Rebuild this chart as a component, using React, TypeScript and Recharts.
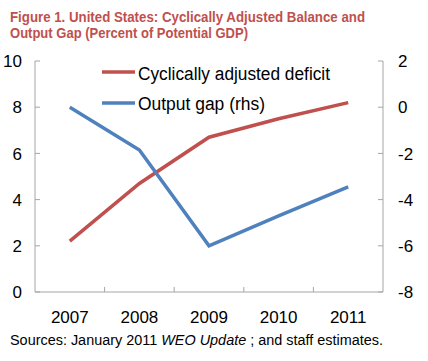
import React from "react";
import { LineChart, Line, XAxis, YAxis } from "recharts";

const years = ["2007", "2008", "2009", "2010", "2011"];
const cyclicallyAdjustedDeficit = [2.2, 4.7, 6.7, 7.5, 8.2];
const outputGap = [0.0, -1.85, -6.0, -4.7, -3.45];
const leftTicks = [0, 2, 4, 6, 8, 10];
const rightTicks = [-8, -6, -4, -2, 0, 2];

const data = years.map((y, i) => ({
  year: y,
  deficit: cyclicallyAdjustedDeficit[i],
  gap: outputGap[i],
}));

const RED = "#C0504D";
const BLUE = "#4F81BD";
const AXIS = "#A6A6A6";
const FONT = "'Liberation Sans', Arial, sans-serif";

const LeftTick = (props: any) => {
  const { x, y, payload } = props;
  return (
    <g>
      <line x1={x + 13} x2={x + 18} y1={y} y2={y} stroke={AXIS} strokeWidth={1} />
      <text x={x} y={y} dy="0.36em" textAnchor="end" fontSize={17} fontFamily={FONT} fill="#000">
        {payload.value}
      </text>
    </g>
  );
};

const RightTick = (props: any) => {
  const { x, y, payload } = props;
  return (
    <g>
      <line x1={x - 15} x2={x - 20} y1={y} y2={y} stroke={AXIS} strokeWidth={1} />
      <text x={x} y={y} dy="0.36em" textAnchor="start" fontSize={17} fontFamily={FONT} fill="#000">
        {payload.value}
      </text>
    </g>
  );
};

const BottomTick = (props: any) => {
  const { x, payload, index } = props;
  const half = 348 / 5 / 2;
  return (
    <g>
      {index < years.length - 1 && (
        <line x1={x + half} x2={x + half} y1={292} y2={287} stroke={AXIS} strokeWidth={1} />
      )}
      <text x={x} y={323} textAnchor="middle" fontSize={17} fontFamily={FONT} fill="#000">
        {payload.value}
      </text>
    </g>
  );
};

export default function App() {
  return (
    <div style={{ position: "absolute", left: 0, top: 0, width: 428, height: 361, background: "#fff" }}>
      <LineChart
        width={428}
        height={361}
        data={data}
        margin={{ top: 61, right: 0, bottom: 39, left: 0 }}
      >
        <XAxis
          dataKey="year"
          scale="band"
          height={30}
          stroke={AXIS}
          tickLine={false}
          tickSize={0}
          tick={<BottomTick />}
          interval={0}
        />
        <YAxis
          yAxisId="left"
          orientation="left"
          width={35}
          domain={[0, 10]}
          ticks={leftTicks}
          stroke={AXIS}
          tickLine={false}
          tickSize={0}
          tickMargin={13}
          tick={<LeftTick />}
          interval={0}
        />
        <YAxis
          yAxisId="right"
          orientation="right"
          width={45}
          domain={[-8, 2]}
          ticks={rightTicks}
          stroke={AXIS}
          tickLine={false}
          tickSize={0}
          tickMargin={15}
          tick={<RightTick />}
          interval={0}
        />
        <Line
          yAxisId="left"
          dataKey="deficit"
          stroke={RED}
          strokeWidth={3.5}
          dot={false}
          isAnimationActive={false}
        />
        <Line
          yAxisId="right"
          dataKey="gap"
          stroke={BLUE}
          strokeWidth={3.5}
          dot={false}
          isAnimationActive={false}
        />
      </LineChart>
      <svg
        width={428}
        height={361}
        style={{ position: "absolute", left: 0, top: 0, pointerEvents: "none" }}
      >
        <text x={10} y={22} fontSize={14} fontWeight="bold" fontFamily={FONT} fill={RED} textLength={355} lengthAdjust="spacingAndGlyphs">
          Figure 1. United States: Cyclically Adjusted  Balance and
        </text>
        <text x={10} y={38} fontSize={14} fontWeight="bold" fontFamily={FONT} fill={RED} textLength={238} lengthAdjust="spacingAndGlyphs">
          Output Gap (Percent of Potential GDP)
        </text>
        <line x1={102} x2={135} y1={72} y2={72} stroke={RED} strokeWidth={3.5} />
        <text x={138} y={80} fontSize={18} fontFamily={FONT} fill="#000" textLength={192} lengthAdjust="spacingAndGlyphs">
          Cyclically adjusted deficit
        </text>
        <line x1={102} x2={135} y1={103} y2={103} stroke={BLUE} strokeWidth={3.5} />
        <text x={138} y={110} fontSize={18} fontFamily={FONT} fill="#000" textLength={127} lengthAdjust="spacingAndGlyphs">
          Output gap (rhs)
        </text>
        <text x={10} y={345} fontSize={14} fontFamily={FONT} fill="#000" textLength={373} lengthAdjust="spacingAndGlyphs">
          Sources: January 2011 <tspan fontStyle="italic">WEO Update</tspan> ; and staff estimates.
        </text>
      </svg>
    </div>
  );
}
